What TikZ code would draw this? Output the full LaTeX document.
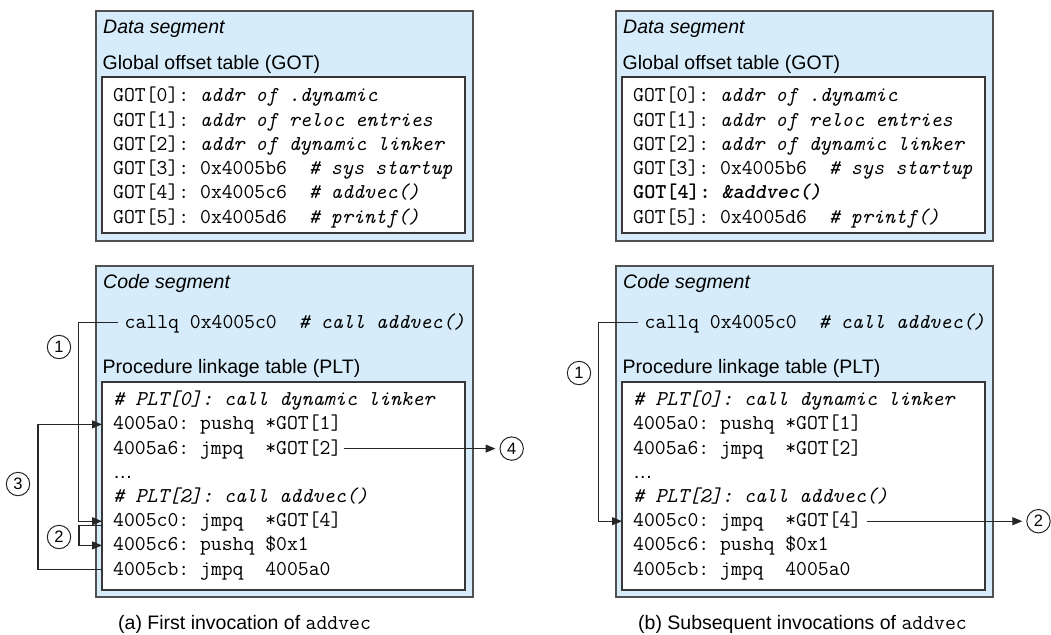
\documentclass[tikz,border=0pt]{standalone}
\usepackage{fontspec}
\setsansfont{Liberation Sans}
\usetikzlibrary{arrows.meta,calc}
\definecolor{segblue}{RGB}{214,236,250}
\definecolor{segline}{RGB}{80,80,80}
\definecolor{tblline}{RGB}{55,55,55}
\newcommand\sansfs{\sffamily\fontsize{19.5}{23}\selectfont}
\newcommand\codefs{\ttfamily\frenchspacing\fontsize{21.1}{25}\selectfont}
\newcommand\numfs{\sffamily\fontsize{16.5}{18}\selectfont}
\begin{document}
\begin{tikzpicture}[x=1pt,y=-1pt,
 seg/.style={draw=segline, fill=segblue, line width=1.4pt, anchor=north west, inner sep=0pt, outer sep=0pt},
 tbl/.style={draw=tblline, fill=white, line width=1.1pt, anchor=north west, inner sep=0pt, outer sep=0pt},
 lbl/.style={anchor=base west, inner sep=0pt, font=\sansfs},
 code/.style={anchor=base west, inner sep=0pt, font=\codefs, text height=16pt, text depth=5pt},
 num/.style={circle, draw=black!85, line width=1pt, minimum size=23.4pt, inner sep=0pt, font=\numfs},
 conn/.style={line width=1.1pt, draw=black!85},
 arr/.style={conn, -{Triangle[length=10pt,width=8pt]}},
]
\useasboundingbox (0,0) rectangle (1051,634);

% ---------- left panel ----------
\node[seg, minimum width=377pt, minimum height=230pt] (dataA) at (96,11) {};
\node[tbl, minimum width=363pt, minimum height=156pt] (gotA) at (102,77) {};
\node[lbl, font=\sansfs\itshape] (dsA) at (103,33.3) {Data segment};
\node[lbl] (gtA) at (102.5,69) {Global offset table (GOT)};
\node[code] (g0A) at (113,101.7) {GOT[0]: \textit{addr of .dynamic}};
\node[code] (g1A) at (113,126) {GOT[1]: \textit{addr of reloc entries}};
\node[code] (g2A) at (113,150.3) {GOT[2]: \textit{addr of dynamic linker}};
\node[code] (g3A) at (113,174.6) {GOT[3]: 0x4005b6~~\textit{\# sys startup}};
\node[code] (g4A) at (113,198.9) {GOT[4]: 0x4005c6~~\textit{\# addvec()}};
\node[code] (g5A) at (113,223.2) {GOT[5]: 0x4005d6~~\textit{\# printf()}};

\node[seg, minimum width=377pt, minimum height=331pt] (codeA) at (96,266) {};
\node[lbl, font=\sansfs\itshape] (csA) at (103,288.3) {Code segment};
\node[code] (cqA) at (124.5,328.3) {callq 0x4005c0~~\textit{\# call addvec()}};
\node[lbl] (ptA) at (102.5,373.3) {Procedure linkage table (PLT)};
\node[tbl, minimum width=363pt, minimum height=208pt] (pltA) at (102,382) {};
\node[code] (p0A) at (113,405.7) {\textit{\# PLT[0]: call dynamic linker}};
\node[code] (a0A) at (113,429.9) {4005a0: pushq *GOT[1]};
\node[code] (a6A) at (113,454.1) {4005a6: jmpq~~*GOT[2]};
\node[lbl] (dotA) at (113,478.3) {…};
\node[code] (p2A) at (113,502.5) {\textit{\# PLT[2]: call addvec()}};
\node[code] (c0A) at (113,526.7) {4005c0: jmpq~~*GOT[4]};
\node[code] (c6A) at (113,550.9) {4005c6: pushq \$0x1};
\node[code] (cbA) at (113,575.1) {4005cb: jmpq~~4005a0};

\node[num] (n1A) at (59,347) {1};
\node[num] (n2A) at (59,537) {2};
\node[num] (n3A) at (18,484) {3};
\node[num] (n4A) at (511.7,448.6) {4};

\draw[arr] ([xshift=-7pt]cqA.west) -- ++(-39,0) |- (c0A.west -| pltA.west);
\draw[arr] ($(c0A.west -| pltA.west)+(0,4.5)$) -- ++(-23,0) |- (c6A.west -| pltA.west);
\draw[arr] (cbA.west -| pltA.west) -- ++(-64,0) |- (a0A.west -| pltA.west);
\draw[arr, shorten >=4pt] ([xshift=2pt]a6A.east) -- (n4A);

\node[lbl] (capA) at (118,629) {(a) First invocation of {\codefs addvec}};

% ---------- right panel ----------
\node[seg, minimum width=377pt, minimum height=230pt] (dataB) at (616,11) {};
\node[tbl, minimum width=363pt, minimum height=156pt] (gotB) at (622,77) {};
\node[lbl, font=\sansfs\itshape] (dsB) at (623,33.3) {Data segment};
\node[lbl] (gtB) at (622.5,69) {Global offset table (GOT)};
\node[code] (g0B) at (633,101.7) {GOT[0]: \textit{addr of .dynamic}};
\node[code] (g1B) at (633,126) {GOT[1]: \textit{addr of reloc entries}};
\node[code] (g2B) at (633,150.3) {GOT[2]: \textit{addr of dynamic linker}};
\node[code] (g3B) at (633,174.6) {GOT[3]: 0x4005b6~~\textit{\# sys startup}};
\node[code] (g4B) at (633,198.9) {\bfseries GOT[4]: \textit{\&addvec()}};
\node[code] (g5B) at (633,223.2) {GOT[5]: 0x4005d6~~\textit{\# printf()}};

\node[seg, minimum width=377pt, minimum height=331pt] (codeB) at (616,266) {};
\node[lbl, font=\sansfs\itshape] (csB) at (623,288.3) {Code segment};
\node[code] (cqB) at (644.5,328.3) {callq 0x4005c0~~\textit{\# call addvec()}};
\node[lbl] (ptB) at (622.5,373.3) {Procedure linkage table (PLT)};
\node[tbl, minimum width=363pt, minimum height=208pt] (pltB) at (622,382) {};
\node[code] (p0B) at (633,405.7) {\textit{\# PLT[0]: call dynamic linker}};
\node[code] (a0B) at (633,429.9) {4005a0: pushq *GOT[1]};
\node[code] (a6B) at (633,454.1) {4005a6: jmpq~~*GOT[2]};
\node[lbl] (dotB) at (633,478.3) {…};
\node[code] (p2B) at (633,502.5) {\textit{\# PLT[2]: call addvec()}};
\node[code] (c0B) at (633,526.7) {4005c0: jmpq~~*GOT[4]};
\node[code] (c6B) at (633,550.9) {4005c6: pushq \$0x1};
\node[code] (cbB) at (633,575.1) {4005cb: jmpq~~4005a0};

\node[num] (n1B) at (579,373) {1};
\node[num] (n2B) at (1038.5,521.2) {2};

\draw[arr] ([xshift=-7pt]cqB.west) -- ++(-39,0) |- (c0B.west -| pltB.west);
\draw[arr, shorten >=4pt] ([xshift=5pt]c0B.east) -- (n2B);

\node[lbl] (capB) at (638,629) {(b) Subsequent invocations of {\codefs addvec}};
\end{tikzpicture}
\end{document}
